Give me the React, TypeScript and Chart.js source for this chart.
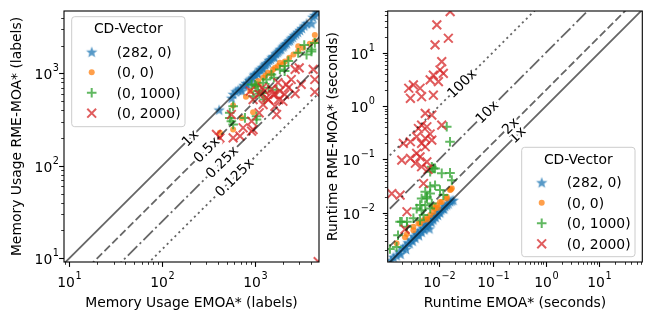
import React, { useEffect, useRef } from 'react';
import { Chart, registerables } from 'chart.js';

Chart.register(...registerables);

// ---------------- data ----------------
const legendTitle = 'CD-Vector';
const seriesNames = ['(282, 0)', '(0, 0)', '(0, 1000)', '(0, 2000)'];

// Memory usage panel: [EMOA*, RME-MOA*]
const memStar = [
  [411, 406], [560, 545], [582, 600], [620, 640], [660, 667], [700, 690], [720, 650], [760, 745],
  [800, 790], [830, 760], [870, 850], [900, 880], [940, 900], [980, 965], [1000, 990], [1050, 1020],
  [1080, 1000], [1120, 1100], [1150, 1125], [1200, 1170], [1230, 1130], [1280, 1250], [1320, 1290],
  [1380, 1320], [1420, 1400], [1480, 1430], [1520, 1500], [1580, 1540], [1620, 1500], [1680, 1650],
  [1750, 1700], [1800, 1760], [1860, 1820], [1920, 1850], [1990, 1950], [2050, 2000], [2120, 2080],
  [2200, 2130], [2300, 2250], [2380, 2300], [2450, 2400], [2550, 2480], [2650, 2600], [2780, 2700],
  [2900, 2820], [3050, 2950], [3200, 3100], [3400, 3300], [3600, 3500], [4070, 3490], [4200, 4100],
  [4400, 4290], [4700, 4600],
];
const memDot = [
  [419, 228], [582, 449], [582, 247], [718, 330], [800, 560], [890, 645], [955, 380], [1000, 730],
  [1080, 830], [1100, 760], [1225, 900], [1300, 950], [1380, 1020], [1500, 1000], [1570, 1105],
  [1650, 1150], [1770, 1200], [1855, 1305], [2000, 1250], [2100, 1350], [2340, 1475], [2600, 1600],
  [2925, 1740], [2925, 1975], [3300, 1900], [3900, 2100], [4415, 2230], [4415, 2600],
];
const memPlus = [
  [535, 375], [535, 330], [557, 304], [582, 441], [582, 280], [780, 330], [920, 760], [955, 565],
  [1000, 755], [1040, 317], [1040, 344], [1040, 730], [1080, 645], [1110, 604], [1210, 615], [1225, 795],
  [1260, 521], [1330, 860], [1400, 700], [1505, 975], [1600, 900], [1710, 667], [1855, 1105], [2090, 1060],
  [2090, 1200], [2290, 1360], [2925, 1670], [3400, 2030], [3600, 1600], [4070, 1725], [4070, 1815],
  [4415, 2140],
];
const memCross = [
  [385, 219], [403, 193], [419, 201], [557, 359], [582, 201], [690, 210], [745, 258], [890, 645],
  [920, 237], [920, 304], [955, 247], [955, 520], [1110, 375], [1110, 593], [1200, 700], [1225, 460],
  [1270, 645], [1330, 543], [1400, 520], [1505, 672], [1570, 590], [1640, 441], [1640, 593], [1710, 359],
  [1770, 795], [1800, 520], [1855, 645], [2000, 500], [2090, 593], [2170, 760], [2300, 700], [2460, 860],
  [2710, 604], [2710, 1105], [3000, 1150], [3150, 760], [4240, 1105], [4415, 860], [4415, 630], [4800, 9.2],
];

// Runtime panel: [EMOA*, RME-MOA*] in seconds
const rtStar = [
  [0.00125, 0.0013], [0.0014, 0.0015], [0.0016, 0.0016], [0.0018, 0.0019], [0.0019, 0.0017],
  [0.0021, 0.0022], [0.0023, 0.0024], [0.0024, 0.0021], [0.0026, 0.0028], [0.0028, 0.0027],
  [0.003, 0.0032], [0.0032, 0.003], [0.0034, 0.0037], [0.0036, 0.0034], [0.0038, 0.004],
  [0.004, 0.0043], [0.0042, 0.0038], [0.0045, 0.0048], [0.0047, 0.0044], [0.005, 0.0053],
  [0.0053, 0.0049], [0.0055, 0.006], [0.0058, 0.0056], [0.006, 0.0065], [0.0063, 0.006],
  [0.0066, 0.0051], [0.0068, 0.0072], [0.0072, 0.0068], [0.0075, 0.008], [0.0078, 0.0075],
  [0.0082, 0.0088], [0.0086, 0.0083], [0.009, 0.0095], [0.0095, 0.0092], [0.01, 0.0105],
  [0.0105, 0.0102], [0.011, 0.0115], [0.0118, 0.0122], [0.0125, 0.012], [0.013, 0.0135],
  [0.014, 0.0143], [0.015, 0.015], [0.016, 0.0165], [0.0172, 0.017], [0.0185, 0.0175],
];
const rtDot = [
  [0.0016, 0.0027], [0.0023, 0.0035], [0.0025, 0.004], [0.0033, 0.0047], [0.0033, 0.0055],
  [0.0041, 0.0063], [0.0044, 0.0063], [0.0051, 0.0073], [0.0059, 0.0082], [0.006, 0.0075],
  [0.0068, 0.0091], [0.0078, 0.0104], [0.0078, 0.0129], [0.0084, 0.012], [0.0091, 0.0139],
  [0.0095, 0.0125], [0.0104, 0.016], [0.0112, 0.016], [0.0139, 0.0186], [0.0139, 0.02],
  [0.016, 0.0267], [0.0166, 0.0275], [0.0173, 0.029],
];
const rtPlus = [
  [0.0012, 0.0021], [0.0016, 0.0023], [0.0017, 0.0038], [0.00186, 0.0068], [0.002, 0.0068],
  [0.0025, 0.0055], [0.0025, 0.0068], [0.0033, 0.0079], [0.0038, 0.012], [0.0044, 0.0073],
  [0.0044, 0.014], [0.0047, 0.0112], [0.0047, 0.0186], [0.0051, 0.0091], [0.0055, 0.0139],
  [0.0055, 0.0248], [0.0059, 0.0186], [0.0059, 0.02], [0.0068, 0.012], [0.0068, 0.023],
  [0.0068, 0.031], [0.0068, 0.059], [0.0073, 0.015], [0.0073, 0.073], [0.0078, 0.068],
  [0.0084, 0.033], [0.0084, 0.068], [0.0104, 0.0267], [0.0112, 0.055], [0.012, 0.0215],
  [0.016, 0.056], [0.0173, 0.041], [0.0139, 0.41], [0.016, 0.215],
];
const rtCross = [
  [0.0161, 59], [0.00906, 33.3], [0.0084, 14], [0.0149, 18.7], [0.0112, 6.8], [0.0104, 4.75],
  [0.012, 4.1], [0.0078, 3.8], [0.0097, 2.87], [0.0068, 3.1], [0.0044, 2.16], [0.0047, 1.5],
  [0.0078, 1.6], [0.0033, 2.5], [0.0027, 2.16], [0.0029, 1.4], [0.0055, 0.73], [0.0073, 0.68],
  [0.0047, 0.44], [0.0112, 0.44], [0.0041, 0.38], [0.0059, 0.41], [0.0068, 0.3], [0.0055, 0.25],
  [0.0038, 0.267], [0.0073, 0.231], [0.0029, 0.215], [0.00214, 0.2], [0.0047, 0.2], [0.0055, 0.173],
  [0.0038, 0.13], [0.0029, 0.105], [0.0044, 0.112], [0.002, 0.097], [0.0036, 0.085], [0.0059, 0.09],
  [0.0047, 0.073], [0.0062, 0.065], [0.0013, 0.023], [0.00186, 0.0215], [0.0025, 0.0105],
  [0.0051, 0.0355], [0.0023, 0.0049],
];

const memRatios = [1, 0.5, 0.25, 0.125];
const memRatioLabels = ['1x', '0.5x', '0.25x', '0.125x'];
const memRatioLabelAt = [200, 300, 440, 600];
const rtRatios = [1, 2, 10, 100];
const rtRatioLabels = ['1x', '2x', '10x', '100x'];
const rtRatioLabelAt = [0.29, 0.215, 0.0785, 0.0267];

const memTickExps = [1, 2, 3];
const rtTickExps = [-2, -1, 0, 1];

const memXRange = [8.75, 4900];
const memYRange = [9.1, 4740];
const rtXRange = [0.00109, 63.8];
const rtYRange = [0.0012, 60.5];

const memXTitle = 'Memory Usage EMOA* (labels)';
const memYTitle = 'Memory Usage RME-MOA* (labels)';
const rtXTitle = 'Runtime EMOA* (seconds)';
const rtYTitle = 'Runtime RME-MOA* (seconds)';

// ---------------- styles ----------------
const W = 651;
const H = 321;
const FONT = '"DejaVu Sans", Verdana, sans-serif';
const FS = 13.9;
const FS_EXP = 9.7;
const RGB = ['31,119,180', '255,127,14', '44,160,44', '214,39,40'];
const ALPHA = 0.75;
const LINE_COLOR = 'rgba(0,0,0,0.6)';
const DASHES = [[], [7.7, 3.3], [13.3, 3.3, 2.1, 3.3], [2.1, 3.4]];

const panels = [
  {
    area: { left: 64, top: 11, right: 319, bottom: 262 },
    xRange: memXRange, yRange: memYRange, tickExps: memTickExps,
    series: [memStar, memDot, memPlus, memCross],
    ratios: memRatios, ratioLabels: memRatioLabels, ratioAt: memRatioLabelAt,
    xTitle: memXTitle, yTitle: memYTitle, yTitleX: 20.5, yTickRight: 59,
    legend: { x: 71.7, y: 16.7, w: 113.3, h: 110 },
  },
  {
    area: { left: 387.7, top: 11, right: 642.3, bottom: 262 },
    xRange: rtXRange, yRange: rtYRange, tickExps: rtTickExps,
    series: [rtStar, rtDot, rtPlus, rtCross],
    ratios: rtRatios, ratioLabels: rtRatioLabels, ratioAt: rtRatioLabelAt,
    xTitle: rtXTitle, yTitle: rtYTitle, yTitleX: 337, yTickRight: 375,
    legend: { x: 521.7, y: 147.3, w: 113.3, h: 109.4 },
  },
];

function makeStar(rgb: string, r: number) {
  const c = document.createElement('canvas');
  const s = Math.ceil(r * 2 + 2);
  c.width = s;
  c.height = s;
  const ctx = c.getContext('2d')!;
  ctx.beginPath();
  for (let i = 0; i < 10; i++) {
    const rad = i % 2 === 0 ? r : r * 0.42;
    const a = -Math.PI / 2 + (i * Math.PI) / 5;
    const px = s / 2 + rad * Math.cos(a);
    const py = s / 2 + 0.7 + rad * Math.sin(a);
    if (i === 0) ctx.moveTo(px, py);
    else ctx.lineTo(px, py);
  }
  ctx.closePath();
  ctx.fillStyle = `rgba(${rgb},${ALPHA})`;
  ctx.fill();
  return c;
}

function col(i: number) {
  return `rgba(${RGB[i]},${ALPHA})`;
}

function drawPow(ctx: CanvasRenderingContext2D, e: number, x: number, y: number, align: string) {
  const base = '10';
  const ex = String(e).replace('-', '\u2212');
  ctx.font = `${FS}px ${FONT}`;
  const wb = ctx.measureText(base).width;
  ctx.font = `${FS_EXP}px ${FONT}`;
  const we = ctx.measureText(ex).width;
  const total = wb + 0.6 + we;
  const x0 = align === 'center' ? x - total / 2 : x - total;
  ctx.textAlign = 'left';
  ctx.textBaseline = 'alphabetic';
  ctx.font = `${FS}px ${FONT}`;
  ctx.fillText(base, x0, y);
  ctx.font = `${FS_EXP}px ${FONT}`;
  ctx.fillText(ex, x0 + wb + 0.6, y - 8);
}

function drawMarker(ctx: CanvasRenderingContext2D, i: number, x: number, y: number, star: HTMLCanvasElement) {
  ctx.save();
  if (i === 0) {
    ctx.drawImage(star, x - star.width / 2, y - star.height / 2);
  } else if (i === 1) {
    ctx.fillStyle = col(1);
    ctx.beginPath();
    ctx.arc(x, y, 3, 0, Math.PI * 2);
    ctx.fill();
  } else if (i === 2) {
    ctx.strokeStyle = col(2);
    ctx.lineWidth = 2;
    ctx.beginPath();
    ctx.moveTo(x - 4.8, y);
    ctx.lineTo(x + 4.8, y);
    ctx.moveTo(x, y - 4.8);
    ctx.lineTo(x, y + 4.8);
    ctx.stroke();
  } else {
    ctx.strokeStyle = col(3);
    ctx.lineWidth = 2;
    ctx.beginPath();
    ctx.moveTo(x - 4.4, y - 4.4);
    ctx.lineTo(x + 4.4, y + 4.4);
    ctx.moveTo(x - 4.4, y + 4.4);
    ctx.lineTo(x + 4.4, y - 4.4);
    ctx.stroke();
  }
  ctx.restore();
}

function minorValues(lo: number, hi: number) {
  const out: number[] = [];
  for (let e = Math.floor(Math.log10(lo)) - 1; e <= Math.ceil(Math.log10(hi)); e++) {
    for (let m = 2; m <= 9; m++) {
      const v = m * Math.pow(10, e);
      if (v >= lo && v <= hi) out.push(v);
    }
  }
  return out;
}

function makeDecor(p: any, star: HTMLCanvasElement) {
  return {
    id: 'decor',
    afterDatasetsDraw(chart: any) {
      const ctx: CanvasRenderingContext2D = chart.ctx;
      const xs = chart.scales.x;
      const ys = chart.scales.y;
      ctx.save();
      ctx.font = `${FS}px ${FONT}`;
      ctx.textAlign = 'center';
      ctx.textBaseline = 'middle';
      p.ratios.forEach((r: number, i: number) => {
        const x = p.ratioAt[i];
        const px = xs.getPixelForValue(x);
        const py = ys.getPixelForValue(x * r);
        const qx = xs.getPixelForValue(x * 10);
        const qy = ys.getPixelForValue(x * r * 10);
        const ang = Math.atan2(qy - py, qx - px);
        ctx.save();
        ctx.translate(px, py);
        ctx.rotate(ang);
        ctx.lineJoin = 'round';
        ctx.lineWidth = 5;
        ctx.strokeStyle = '#ffffff';
        ctx.strokeText(p.ratioLabels[i], 0, 1);
        ctx.fillStyle = '#000000';
        ctx.fillText(p.ratioLabels[i], 0, 1);
        ctx.restore();
      });
      ctx.restore();
    },
    afterDraw(chart: any) {
      const ctx: CanvasRenderingContext2D = chart.ctx;
      const xs = chart.scales.x;
      const ys = chart.scales.y;
      const a = chart.chartArea;
      ctx.save();
      ctx.strokeStyle = '#000000';
      // minor ticks
      ctx.lineWidth = 0.8;
      ctx.beginPath();
      minorValues(p.xRange[0], p.xRange[1]).forEach((v) => {
        const px = Math.round(xs.getPixelForValue(v)) + 0.5;
        ctx.moveTo(px, a.bottom);
        ctx.lineTo(px, a.bottom + 2.8);
      });
      minorValues(p.yRange[0], p.yRange[1]).forEach((v) => {
        const py = Math.round(ys.getPixelForValue(v)) + 0.5;
        ctx.moveTo(a.left, py);
        ctx.lineTo(a.left - 2.8, py);
      });
      ctx.stroke();
      // major ticks + labels
      ctx.lineWidth = 1.1;
      ctx.fillStyle = '#000000';
      p.tickExps.forEach((e: number) => {
        const v = Math.pow(10, e);
        if (v >= p.xRange[0] && v <= p.xRange[1]) {
          const px = Math.round(xs.getPixelForValue(v)) + 0.5;
          ctx.beginPath();
          ctx.moveTo(px, a.bottom);
          ctx.lineTo(px, a.bottom + 4.9);
          ctx.stroke();
          drawPow(ctx, e, px, a.bottom + 24.5, 'center');
        }
        if (v >= p.yRange[0] && v <= p.yRange[1]) {
          const py = Math.round(ys.getPixelForValue(v)) + 0.5;
          ctx.beginPath();
          ctx.moveTo(a.left, py);
          ctx.lineTo(a.left - 4.9, py);
          ctx.stroke();
          drawPow(ctx, e, p.yTickRight, py + 5, 'right');
        }
      });
      // frame
      ctx.lineWidth = 1.1;
      ctx.strokeRect(a.left, a.top, a.right - a.left, a.bottom - a.top);
      // axis titles
      ctx.font = `${FS}px ${FONT}`;
      ctx.textAlign = 'center';
      ctx.textBaseline = 'alphabetic';
      ctx.fillText(p.xTitle, (a.left + a.right) / 2, 306.5);
      ctx.save();
      ctx.translate(p.yTitleX, (a.top + a.bottom) / 2);
      ctx.rotate(-Math.PI / 2);
      ctx.fillText(p.yTitle, 0, 0);
      ctx.restore();
      // legend
      const b = p.legend;
      const rr = 3;
      ctx.beginPath();
      ctx.moveTo(b.x + rr, b.y);
      ctx.lineTo(b.x + b.w - rr, b.y);
      ctx.arcTo(b.x + b.w, b.y, b.x + b.w, b.y + rr, rr);
      ctx.lineTo(b.x + b.w, b.y + b.h - rr);
      ctx.arcTo(b.x + b.w, b.y + b.h, b.x + b.w - rr, b.y + b.h, rr);
      ctx.lineTo(b.x + rr, b.y + b.h);
      ctx.arcTo(b.x, b.y + b.h, b.x, b.y + b.h - rr, rr);
      ctx.lineTo(b.x, b.y + rr);
      ctx.arcTo(b.x, b.y, b.x + rr, b.y, rr);
      ctx.closePath();
      ctx.fillStyle = 'rgba(255,255,255,0.8)';
      ctx.fill();
      ctx.strokeStyle = '#cccccc';
      ctx.lineWidth = 1;
      ctx.stroke();
      ctx.fillStyle = '#000000';
      ctx.font = `${FS}px ${FONT}`;
      ctx.textAlign = 'center';
      ctx.fillText(legendTitle, b.x + b.w / 2, b.y + 16.5);
      ctx.textAlign = 'left';
      seriesNames.forEach((name, i) => {
        const cy = b.y + 35 + 20.5 * i;
        drawMarker(ctx, i, b.x + 20, cy, star);
        ctx.fillStyle = '#000000';
        ctx.font = `${FS}px ${FONT}`;
        ctx.fillText(name, b.x + 45, cy + 5);
      });
      ctx.restore();
    },
  };
}

function buildConfig(p: any): any {
  const star = makeStar(RGB[0], 6);
  const pts = (arr: number[][]) => arr.map(([x, y]) => ({ x, y }));
  const lo = p.xRange[0] / 100;
  const hi = p.xRange[1] * 100;
  const lineSets = p.ratios.map((r: number, i: number) => ({
    type: 'line',
    data: [{ x: lo, y: lo * r }, { x: hi, y: hi * r }],
    borderColor: LINE_COLOR,
    borderWidth: 1.8,
    borderDash: DASHES[i],
    borderCapStyle: 'butt',
    pointRadius: 0,
    fill: false,
    tension: 0,
    order: 0,
    clip: 0,
  }));
  const scatterSets = [
    { data: pts(p.series[0]), pointStyle: star, pointRadius: 6, borderWidth: 0, backgroundColor: col(0), borderColor: col(0), order: 4, clip: 0 },
    { data: pts(p.series[1]), pointStyle: 'circle', pointRadius: 3, borderWidth: 0, backgroundColor: col(1), borderColor: col(1), order: 3, clip: 0 },
    { data: pts(p.series[2]), pointStyle: 'cross', pointRadius: 4.8, borderWidth: 2, backgroundColor: col(2), borderColor: col(2), order: 2, clip: 0 },
    { data: pts(p.series[3]), pointStyle: 'crossRot', pointRadius: 6.2, borderWidth: 2, backgroundColor: col(3), borderColor: col(3), order: 1, clip: 0 },
  ];
  return {
    type: 'scatter',
    data: { datasets: [...scatterSets, ...lineSets] },
    options: {
      responsive: false,
      animation: false,
      devicePixelRatio: 1,
      events: [],
      layout: {
        padding: {
          left: p.area.left,
          top: p.area.top,
          right: W - p.area.right,
          bottom: H - p.area.bottom,
        },
      },
      plugins: { legend: { display: false }, tooltip: { enabled: false } },
      scales: {
        x: { type: 'logarithmic', min: p.xRange[0], max: p.xRange[1], display: false },
        y: { type: 'logarithmic', min: p.yRange[0], max: p.yRange[1], display: false },
      },
    },
    plugins: [makeDecor(p, star)],
  };
}

export default function App() {
  const r1 = useRef<HTMLCanvasElement>(null);
  const r2 = useRef<HTMLCanvasElement>(null);
  useEffect(() => {
    const charts = [r1, r2].map((r, i) => new Chart(r.current as HTMLCanvasElement, buildConfig(panels[i])));
    return () => charts.forEach((c) => c.destroy());
  }, []);
  const cs: React.CSSProperties = { position: 'absolute', left: 0, top: 0, width: W, height: H };
  return (
    <div style={{ position: 'absolute', left: 0, top: 0, width: W, height: H, background: '#ffffff' }}>
      <canvas ref={r1} width={W} height={H} style={cs} />
      <canvas ref={r2} width={W} height={H} style={cs} />
    </div>
  );
}
